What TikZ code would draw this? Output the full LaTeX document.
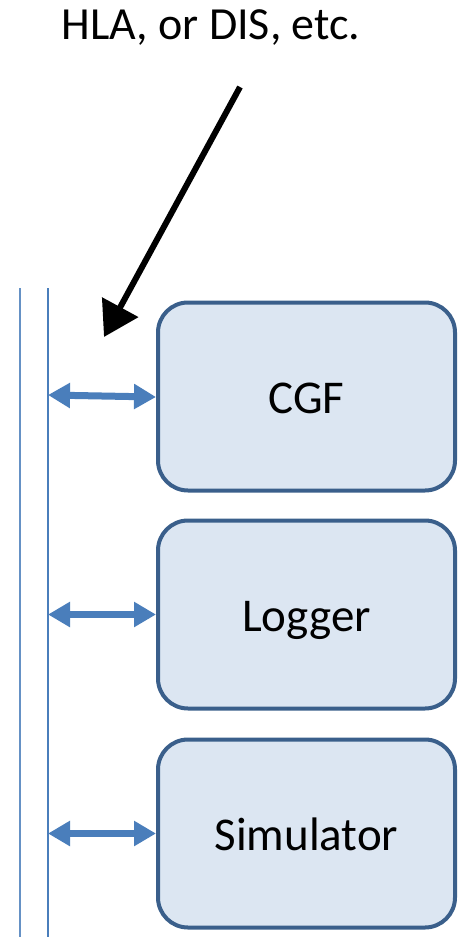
\documentclass[tikz,border=0pt]{standalone}
\usepackage{fontspec}
\setmainfont{Carlito}
\usetikzlibrary{arrows.meta}
\definecolor{boxfill}{HTML}{DCE6F2}
\definecolor{boxline}{HTML}{3A5F8B}
\definecolor{link}{HTML}{4A7EBB}
\tikzset{
  component/.style={draw=boxline, fill=boxfill, line width=4pt, rounded corners=30pt,
    minimum width=297pt, minimum height=188pt, inner sep=0pt,
    font=\fontsize{47}{52}\selectfont, text height=33pt, text depth=0pt},
  busline/.style={draw=link, line width=1.8pt},
  linkarrow/.style={draw=link, line width=7pt,
    {Triangle[length=22pt,width=24pt]}-{Triangle[length=22pt,width=24pt]}},
  callout/.style={draw=black, line width=6pt, -{Triangle[length=34pt,width=40pt]}},
  caption/.style={font=\fontsize{46}{50}\selectfont, anchor=base, inner sep=0pt}
}
\begin{document}
\begin{tikzpicture}[x=1pt,y=-1pt]
  \useasboundingbox (0,0) rectangle (461,937);
  % the shared bus: two parallel lines
  \coordinate (busAtop) at (20,288);
  \coordinate (busAbot) at (20,937);
  \coordinate (busBtop) at (48,288);
  \coordinate (busBbot) at (48,937);
  \draw[busline, line width=1.4pt, draw=link!85] (busAtop) -- (busAbot);
  \draw[busline] (busBtop) -- (busBbot);
  % components
  \node[component] (cgf) at (306.5,396.5) {CGF};
  \node[component] (logger) at (306.5,614.5) {Logger};
  \node[component] (sim) at (306.5,833.5) {Simulator};
  % links between bus and components
  \coordinate (tapcgf) at (48,395);
  \coordinate (taplog) at (48,614.5);
  \coordinate (tapsim) at (48,833.5);
  \draw[linkarrow] (tapcgf) -- (cgf.west |- 0,397);
  \draw[linkarrow] (taplog) -- (logger.west);
  \draw[linkarrow] (tapsim) -- (sim.west);
  % caption and pointer
  \node[caption] (title) at (211,39) {HLA, or DIS, etc.};
  \coordinate (ptrstart) at (240,87);
  \coordinate (ptrend) at (104,337);
  \draw[callout] (ptrstart) -- (ptrend);
\end{tikzpicture}
\end{document}
